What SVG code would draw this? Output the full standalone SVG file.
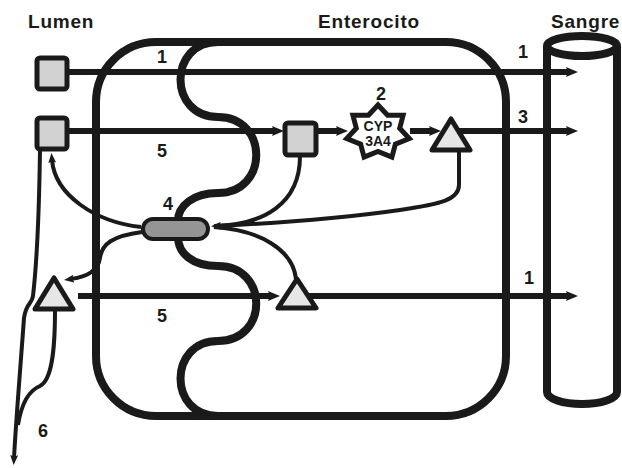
<svg xmlns="http://www.w3.org/2000/svg" width="622" height="468" viewBox="0 0 622 468">
<style>
.hdr{font-family:"Liberation Sans",Arial,sans-serif;font-weight:bold;font-size:19px;letter-spacing:0.8px;fill:#1a1a1a}
.num{font-family:"Liberation Sans",Arial,sans-serif;font-weight:bold;font-size:18px;fill:#1a1a1a;text-anchor:middle}
.cyp{font-family:"Liberation Sans",Arial,sans-serif;font-weight:bold;font-size:14px;fill:#1a1a1a;text-anchor:middle}
.mem{fill:none;stroke:#1a1a1a;stroke-width:8;stroke-linejoin:round}
.ln{fill:none;stroke:#1a1a1a;stroke-width:6}
.cv{fill:none;stroke:#1a1a1a;stroke-width:4}
.sq{fill:#d2d2d2;stroke:#1a1a1a;stroke-width:5}
.tri{fill:#e6e6e6;stroke:#1a1a1a;stroke-width:5;stroke-linejoin:round}
</style>
<defs>
<marker id="ah" markerUnits="userSpaceOnUse" viewBox="0 0 12 10" markerWidth="12" markerHeight="10" refX="4" refY="5" orient="auto">
<path d="M0,0 L12,5 L0,10 L2,5 z" fill="#1a1a1a"/>
</marker>
<marker id="as" markerUnits="userSpaceOnUse" viewBox="0 0 10 8" markerWidth="10" markerHeight="8" refX="3" refY="4" orient="auto">
<path d="M0,0 L10,4 L0,8 L2,4 z" fill="#1a1a1a"/>
</marker>
</defs>

<text class="hdr" x="28" y="28">Lumen</text>
<text class="hdr" x="318" y="28">Enterocito</text>
<text class="hdr" x="551" y="28">Sangre</text>

<g id="enterocito">
<rect class="mem" x="96" y="42" width="410" height="374" rx="60" ry="60"/>
<path class="mem" d="M218,42 C168,42 168,117 218,117 C269,117 269,193 218,193 C193,193 178,206 178,221"/>
<path class="mem" d="M178,237 C178,253 192,266 218,266 C269,266 269,341 218,341 C168,341 168,416 218,416"/>
</g>

<g id="sangre">
<path class="mem" d="M547,46 L547,392 A35,12 0 0 0 617,392 L617,46"/>
<ellipse class="mem" cx="582" cy="46" rx="35" ry="10"/>
</g>

<g id="connectors">
<path class="ln" d="M67,72 L570,72" marker-end="url(#ah)"/>
<path class="ln" d="M67,131 L276,131" marker-end="url(#ah)"/>
<path class="ln" d="M317,131 L340,131" marker-end="url(#ah)"/>
<path class="ln" d="M410,131 L433,131" marker-end="url(#ah)"/>
<path class="ln" d="M451,131 L570,131" marker-end="url(#ah)"/>
<path class="ln" d="M78,296 L272,296" marker-end="url(#ah)"/>
<path class="ln" d="M297,296 L570,296" marker-end="url(#ah)"/>
<path class="cv" d="M141,227 C95,222 55,195 52,160" marker-end="url(#as)"/>
<path class="cv" d="M300,156 C300,205 262,224 218,226" marker-end="url(#as)"/>
<path class="cv" d="M459,150 L459,185 C459,200 440,204 400,210 C330,220 260,224 214,226"/>
<path class="cv" d="M296,279 C293,250 260,230 214,227"/>
<path class="cv" d="M142,232 C112,236 102,244 100,258 C98,272 86,277 71,279" marker-end="url(#as)"/>
<path class="cv" d="M40,150 C39,220 36,270 33,296 C32,304 26,303 24,318 C21,360 16,420 14,458" marker-end="url(#as)"/>
<path class="cv" d="M55,310 C55,350 52,380 40,386 C30,390 22,400 18,425"/>
</g>

<g id="pump">
<rect x="143" y="219" width="65" height="20" rx="10" ry="10" fill="#959595" stroke="#1a1a1a" stroke-width="4"/>
</g>

<g id="sq-lumen-1"><rect class="sq" x="37" y="58" width="30" height="31" rx="3"/></g>
<g id="sq-lumen-2"><rect class="sq" x="37" y="118" width="30" height="31" rx="3"/></g>
<g id="sq-cell"><rect class="sq" x="285" y="123" width="31" height="32" rx="3"/></g>
<g id="tri-cell"><polygon class="tri" points="451,119 470,150 432,150"/></g>
<g id="tri-lumen"><polygon class="tri" points="54,278 73,309 35,309"/></g>
<g id="tri-cell-2"><polygon class="tri" points="297,279 316,308 278,308"/></g>

<g id="cyp3a4">
<polygon points="378,105 387.6,115.3 403.1,115.3 399.7,128.2 409.3,138.5 395.4,144.2 391.9,157.1 378,151.4 364.1,157.1 360.6,144.2 346.7,138.5 356.3,128.2 352.9,115.3 368.4,115.3" fill="#ffffff" stroke="#1a1a1a" stroke-width="5" stroke-linejoin="miter"/>
<text class="cyp" x="378" y="131">CYP</text>
<text class="cyp" x="378" y="146">3A4</text>
</g>

<g id="labels">
<text class="num" x="162" y="63">1</text>
<text class="num" x="523" y="58">1</text>
<text class="num" x="381" y="100">2</text>
<text class="num" x="523" y="123">3</text>
<text class="num" x="162" y="157">5</text>
<text class="num" x="168" y="210">4</text>
<text class="num" x="162" y="322">5</text>
<text class="num" x="529" y="284">1</text>
<text class="num" x="43" y="437">6</text>
</g>
</svg>
